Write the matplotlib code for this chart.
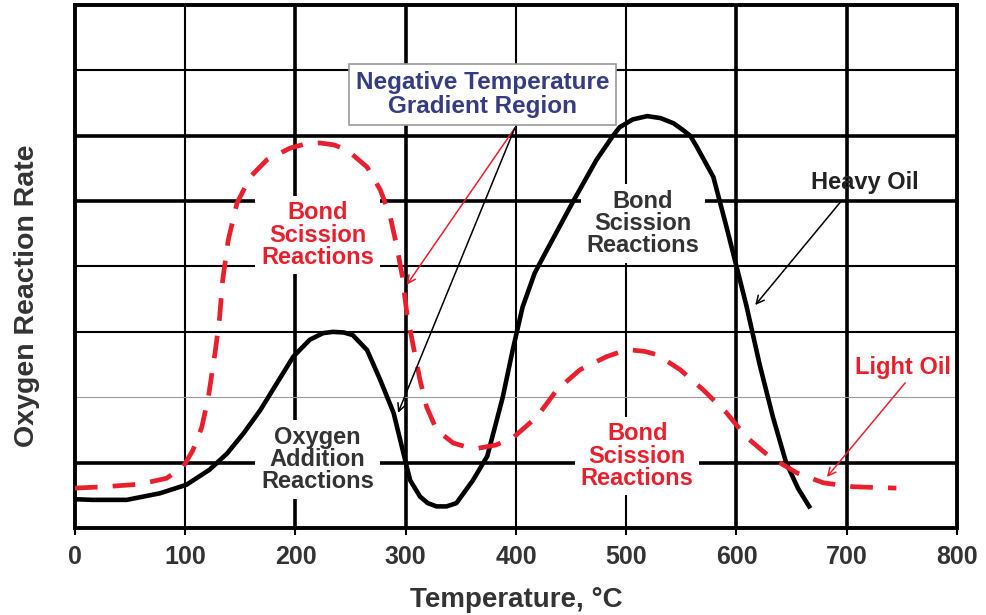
import numpy as np
import matplotlib.pyplot as plt
from matplotlib.patches import FancyArrowPatch

plt.rcParams['font.family'] = ['Liberation Sans', 'DejaVu Sans']

# Heavy oil oxygen reaction rate (solid black)
heavy_T = [0, 16, 47, 77, 101, 122, 138, 153, 168, 183, 198, 213, 225, 234,
           244, 252, 265, 277, 289, 298, 304, 313, 320, 328, 337, 346, 361,
           374, 388, 397, 406, 417, 428, 452, 473, 488, 494, 506, 519, 531,
           543, 552, 558, 564, 579, 591, 600, 609, 621, 633, 645, 656, 667]
heavy_rate = [0.44, 0.43, 0.43, 0.53, 0.66, 0.89, 1.14, 1.45, 1.8, 2.21,
              2.62, 2.88, 2.98, 3.0, 2.99, 2.95, 2.72, 2.26, 1.76, 1.14,
              0.73, 0.48, 0.38, 0.33, 0.33, 0.38, 0.73, 1.1, 2.0, 2.72, 3.38,
              3.9, 4.25, 5.0, 5.63, 6.0, 6.13, 6.25, 6.3, 6.27, 6.19, 6.08,
              6.0, 5.83, 5.37, 4.6, 4.0, 3.4, 2.5, 1.7, 1.0, 0.6, 0.3]

# Light oil oxygen reaction rate (dashed red)
light_T = [0, 26, 59, 83, 98, 107, 115, 121, 127, 131, 134, 139, 147, 159,
           174, 195, 208, 222, 235, 247, 265, 277, 286, 292, 297, 301, 307,
           313, 319, 328, 343, 355, 366, 382, 398, 419, 437, 458, 482, 494,
           506, 517, 528, 549, 570, 591, 609, 630, 655, 679, 706, 745]
light_rate = [0.61, 0.63, 0.67, 0.76, 0.93, 1.19, 1.54, 2.0, 2.67, 3.18,
              3.79, 4.4, 4.97, 5.37, 5.63, 5.81, 5.87, 5.89, 5.86, 5.78,
              5.52, 5.17, 4.76, 4.3, 3.84, 3.29, 2.77, 2.26, 1.85, 1.5, 1.3,
              1.24, 1.22, 1.27, 1.39, 1.7, 2.11, 2.42, 2.62, 2.69, 2.72,
              2.7, 2.65, 2.42, 2.11, 1.76, 1.39, 1.09, 0.84, 0.69, 0.63, 0.61]

x_ticks = [0, 100, 200, 300, 400, 500, 600, 700, 800]
x_label = "Temperature, °C"
y_label = "Oxygen Reaction Rate"

RED = '#e8202e'
DARK = '#333333'

fig = plt.figure(figsize=(9.86, 6.15), dpi=100)
ax = fig.add_axes([0.076, 0.1415, 0.8946, 0.8504])
ax.set_xlim(0, 800)
ax.set_ylim(0, 8)

# grid lines with varying weights
v_lw = {100: 1.5, 200: 2.6, 300: 2.6, 400: 1.5, 500: 1.5, 600: 2.6, 700: 2.6}
for xv, lw in v_lw.items():
    ax.axvline(xv, color='black', lw=lw, zorder=1)
h_lw = {1: 2.6, 2: 0.8, 3: 1.5, 4: 1.5, 5: 2.6, 6: 2.6, 7: 1.5}
for yv, lw in h_lw.items():
    col = '#999999' if yv == 2 else 'black'
    ax.axhline(yv, color=col, lw=lw, zorder=1)

for s in ax.spines.values():
    s.set_linewidth(2.8)

ax.set_xticks(x_ticks)
ax.set_yticks(np.arange(0, 9))
ax.set_yticklabels([])
ax.tick_params(axis='x', direction='out', length=5, width=1.5,
               labelsize=18, colors='black', labelcolor=DARK, pad=7)
ax.tick_params(axis='y', length=0)
for lbl in ax.get_xticklabels():
    lbl.set_fontweight('bold')

ax.plot(heavy_T, heavy_rate, color='black', lw=3.3, zorder=3,
        solid_joinstyle='round', solid_capstyle='butt')
ax.plot(light_T, light_rate, color=RED, lw=3.4, zorder=3,
        dashes=(4.8, 3.2), dash_joinstyle='round')

fig.text(516 / 986, 1 - 600 / 615, x_label, fontsize=20, fontweight='bold',
         color=DARK, ha='center', va='center')
fig.text(27 / 986, 1 - 296 / 615, y_label, fontsize=20.5, fontweight='bold',
         color=DARK, ha='center', va='center', rotation=90)

lab_kw = dict(ha='center', va='center', fontsize=17, fontweight='bold',
              linespacing=0.95, zorder=2,
              bbox=dict(facecolor='white', edgecolor='none', pad=4))
ax.text(220, 4.48, "Bond\nScission\nReactions", color=RED, **lab_kw)
ax.text(515, 4.66, "Bond\nScission\nReactions", color=DARK, **lab_kw)
ax.text(220, 1.05, "Oxygen\nAddition\nReactions", color=DARK, **lab_kw)
ax.text(510, 1.1, "Bond\nScission\nReactions", color=RED, **lab_kw)

ax.text(716, 5.29, "Heavy Oil", color='#222222', ha='center', va='center',
        fontsize=17, fontweight='bold', zorder=4)
ax.text(751, 2.46, "Light Oil", color=RED, ha='center', va='center',
        fontsize=17, fontweight='bold', zorder=4)

ax.text(370, 6.63, "Negative Temperature\nGradient Region", color='#363c82',
        ha='center', va='center', fontsize=17.5, fontweight='bold',
        linespacing=1.05, zorder=5,
        bbox=dict(facecolor='white', edgecolor='#9a9a9a', lw=1.2,
                  boxstyle='square,pad=0.28'))


def arrow(x0, y0, x1, y1, color):
    ax.add_patch(FancyArrowPatch((x0, y0), (x1, y1), arrowstyle='->',
                                 mutation_scale=14, color=color, lw=1.1,
                                 zorder=4, shrinkA=0, shrinkB=0))


arrow(399, 6.12, 301, 3.72, RED)
arrow(399, 6.12, 293, 1.76, 'black')
arrow(695, 5.0, 617, 3.41, 'black')
arrow(753, 2.22, 682, 0.78, RED)

fig.savefig('out.png', dpi=100)
